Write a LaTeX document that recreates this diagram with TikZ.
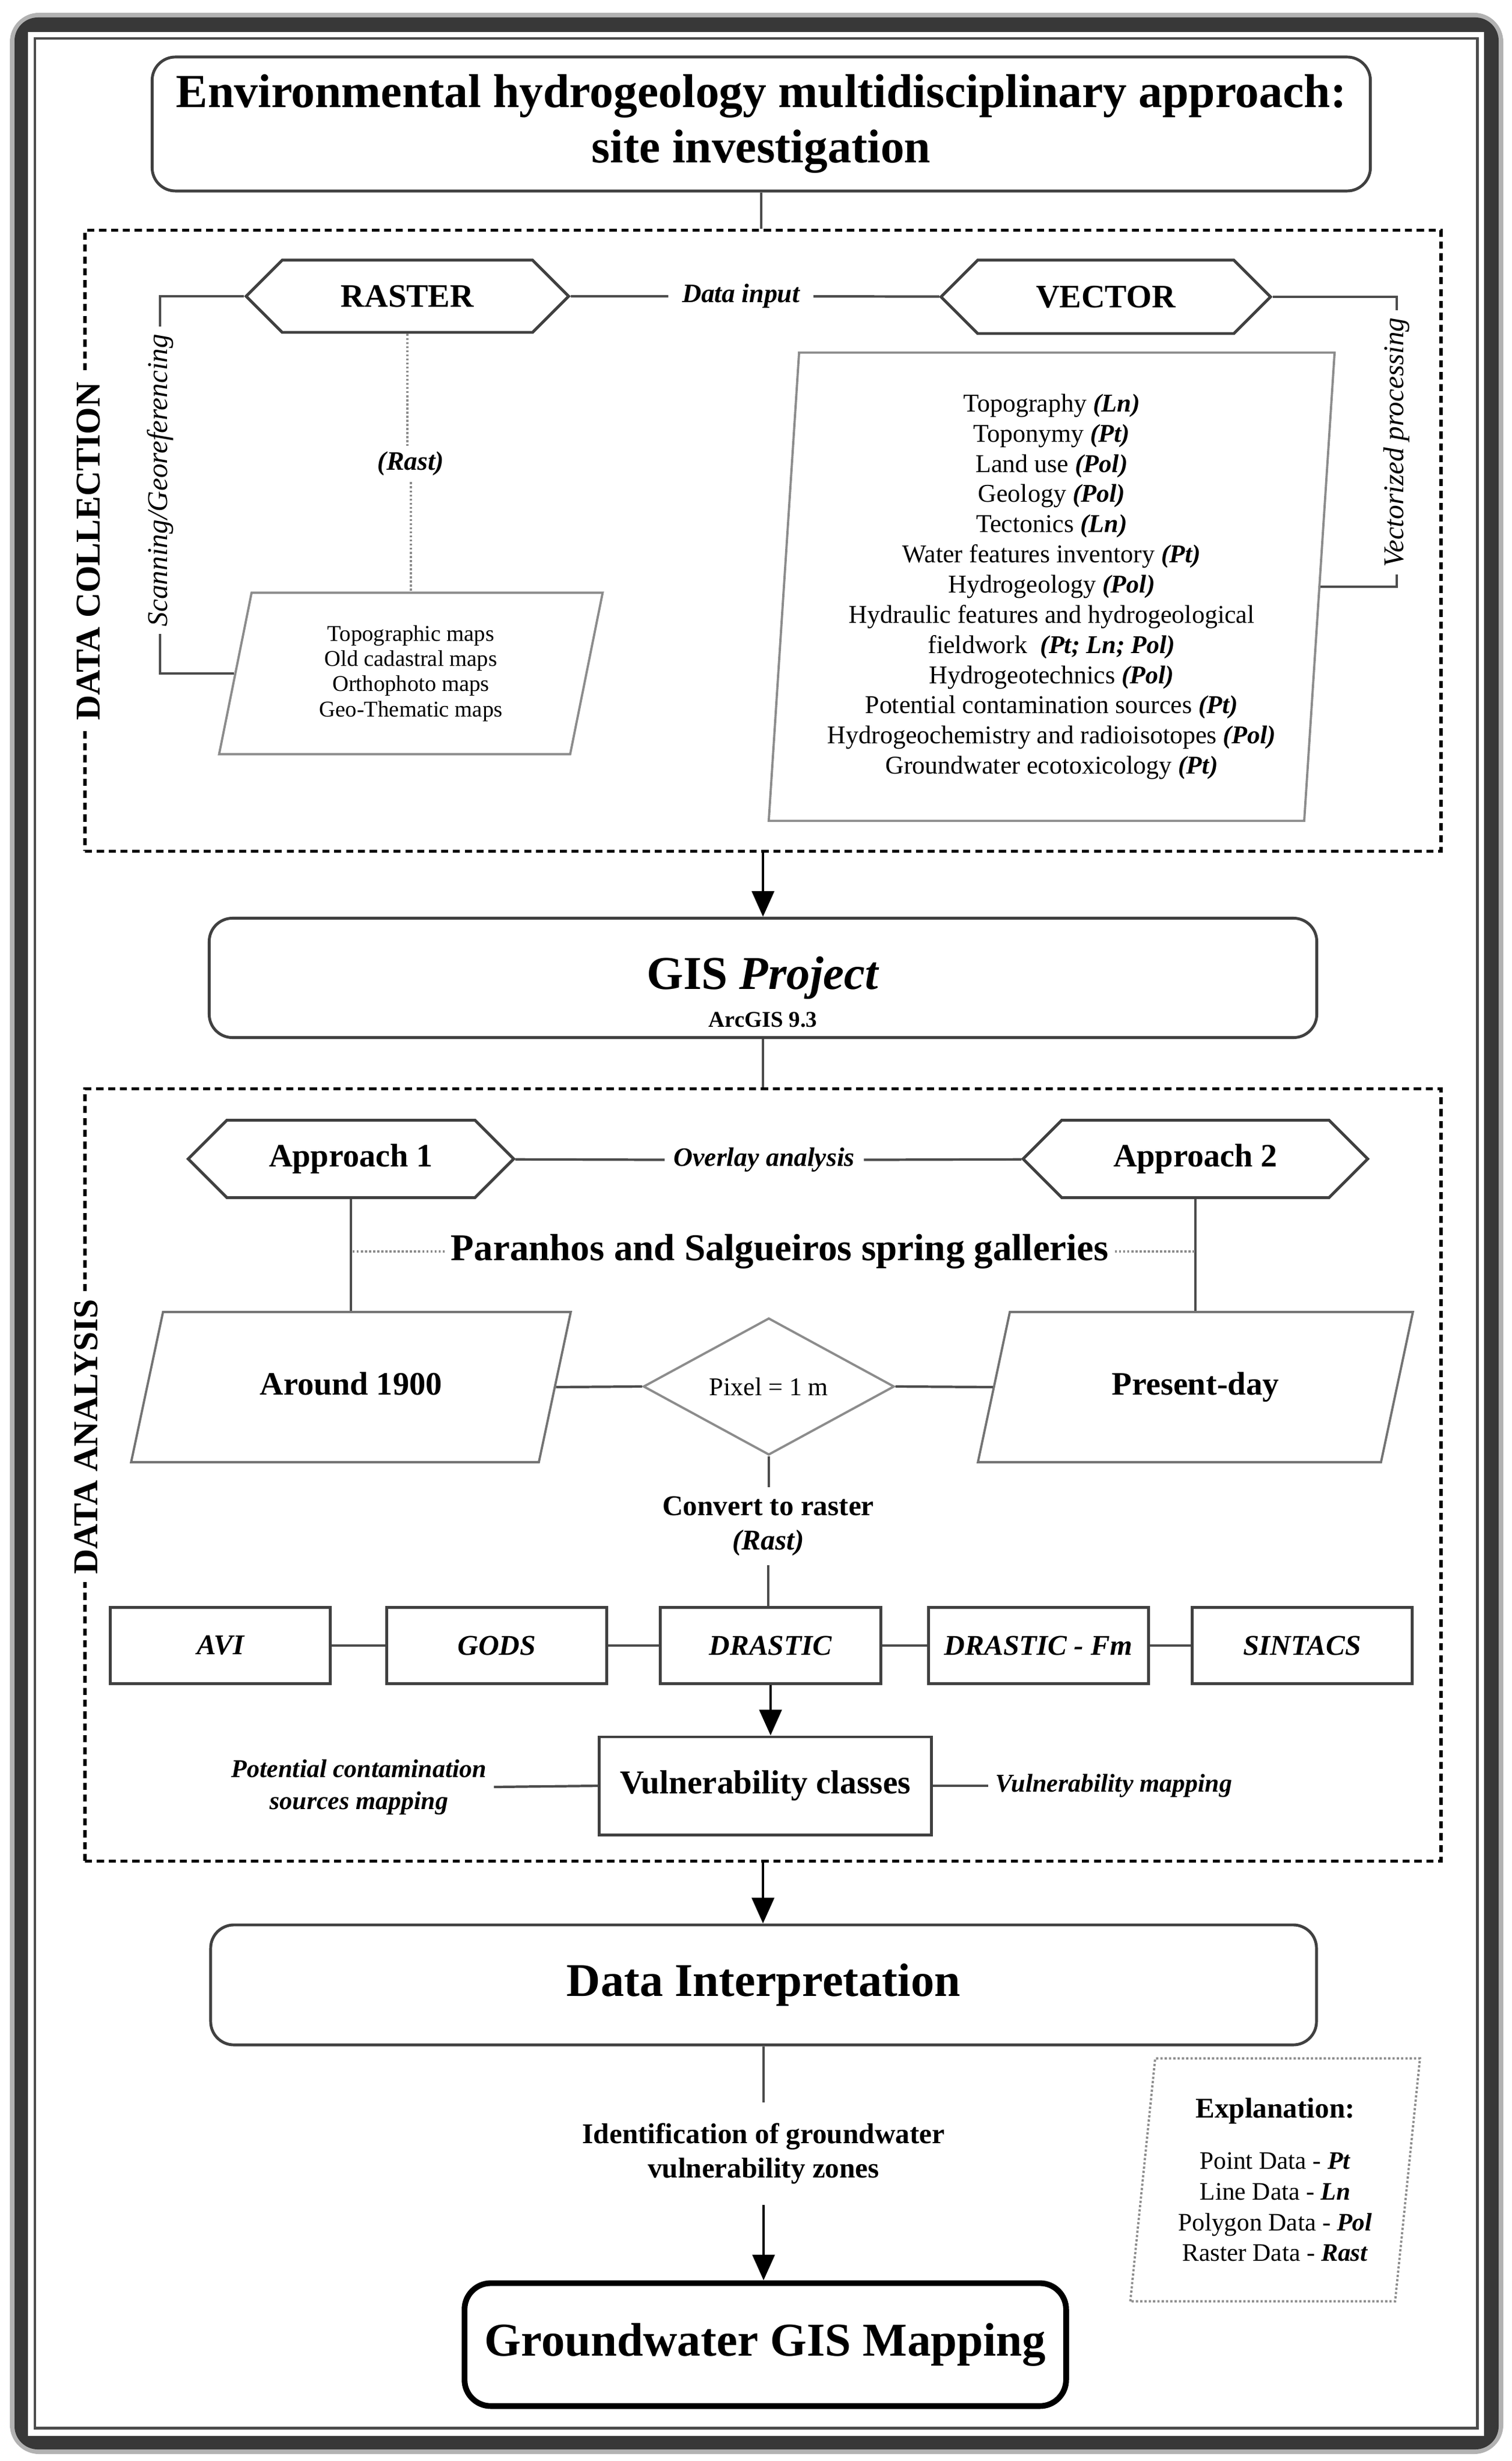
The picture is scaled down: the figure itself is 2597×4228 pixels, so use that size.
\documentclass[tikz,border=0pt]{standalone}
\usepackage{fontspec}
\setmainfont{Liberation Serif}
\usetikzlibrary{arrows.meta,positioning,shapes.geometric,shapes.symbols}

\newcommand{\dtype}[1]{\textbf{\textit{#1}}}

\tikzset{
  roundbox/.style={rectangle, rounded corners=0.4cm, draw=black!75, line width=1.4pt, align=center, inner sep=0pt},
  hexbox/.style={signal, signal to=east and west, signal pointer angle=90, draw=black!75, line width=1.4pt, inner sep=0pt, font=\fontsize{16}{19}\selectfont\bfseries},
  listbox/.style={trapezium, trapezium stretches=true, draw=black!45, line width=1.1pt, align=center, inner sep=0pt},
  periodbox/.style={trapezium, trapezium stretches body=true, trapezium left angle=78, trapezium right angle=102, draw=black!55, line width=1.1pt, inner sep=0pt, text height=1.42cm, text depth=1.16cm, font=\fontsize{16}{19}\selectfont\bfseries},
  method/.style={rectangle, draw=black!75, line width=1.4pt, minimum width=3.78cm, minimum height=1.31cm, font=\fontsize{14}{17}\selectfont\bfseries\itshape},
  phase/.style={rectangle, draw=black, line width=1.6pt, dash pattern=on 3.5pt off 2.3pt, inner sep=0pt},
  phaselabel/.style={rotate=90, fill=white, inner xsep=4pt, inner ysep=1pt, font=\fontsize{17}{20}\selectfont\bfseries},
  sidelabel/.style={rotate=90, inner sep=0.12cm, font=\fontsize{14}{17}\selectfont\itshape},
  note/.style={align=center, font=\fontsize{13}{15.6}\selectfont\bfseries\itshape},
  link/.style={draw=black!70, line width=1.2pt},
  softlink/.style={draw=black!45, line width=1pt, densely dotted},
  flow/.style={draw=black, line width=1.4pt, -{Triangle[length=4.4mm, width=3.8mm]}},
}

\begin{document}
\begin{tikzpicture}[x=0.01cm, y=-0.01cm]
  \useasboundingbox (0,0) rectangle (2597,4228);

  % outer frame
  \fill[black!30, rounded corners=0.5cm] (17,22) rectangle (2583,4216);
  \fill[black!78, rounded corners=0.4cm] (25,30) rectangle (2575,4208);
  \fill[white] (48,55) rectangle (2550,4185);
  \draw[black!70, line width=1.4pt] (60,66) rectangle (2538,4171);

  % site investigation
  \node (site) [roundbox, minimum width=20.92cm, minimum height=2.3cm, font=\fontsize{23.2}{27}\selectfont\bfseries] at (1308,213) {Environmental hydrogeology multidisciplinary approach:\\site investigation};

  % data collection
  \node (collect) [phase, minimum width=23.29cm, minimum height=10.66cm] at (1311,929) {};
  \node (dclabel) [phaselabel] at (152,947) {DATA COLLECTION};
  \draw[link] (site.south) -- (site.south |- collect.north);

  \node (raster) [hexbox, minimum width=5.54cm, minimum height=1.24cm] at (700,509) {RASTER};
  \node (vector) [hexbox, minimum width=5.66cm, minimum height=1.26cm] at (1900,510) {VECTOR};
  \node (input) [note, inner xsep=0.23cm] at (1273,509) {Data input};
  \draw[link] (raster) -- (input);
  \draw[link] (input) -- (vector);

  \node (rastlist) [listbox, trapezium left angle=79, trapezium right angle=101, minimum width=6.59cm, minimum height=2.77cm, font=\fontsize{11}{12.3}\selectfont] at (706,1157) {Topographic maps\\Old cadastral maps\\Orthophoto maps\\Geo-Thematic maps};
  \node (rast) [note, inner sep=0.1cm] at (706,797) {(Rast)};
  \draw[softlink] (raster.south) -- (raster.south |- rast.north);
  \draw[softlink] (rast.south) -- (rast.south |- rastlist.north);

  \node (scan) [sidelabel] at (275,825) {Scanning/Georeferencing};
  \draw[link] (raster.west) -| (scan.east);
  \draw[link] (scan.west) |- (rastlist.west);

  \node (veclist) [listbox, trapezium left angle=86, trapezium right angle=94, minimum width=9.72cm, minimum height=8.04cm, font=\fontsize{12.5}{14.75}\selectfont] at (1807,1008) {Topography \dtype{(Ln)}\\Toponymy \dtype{(Pt)}\\Land use \dtype{(Pol)}\\Geology \dtype{(Pol)}\\Tectonics \dtype{(Ln)}\\Water features inventory \dtype{(Pt)}\\Hydrogeology \dtype{(Pol)}\\Hydraulic features and hydrogeological\\fieldwork\ \ \dtype{(Pt; Ln; Pol)}\\Hydrogeotechnics \dtype{(Pol)}\\Potential contamination sources \dtype{(Pt)}\\Hydrogeochemistry and radioisotopes \dtype{(Pol)}\\Groundwater ecotoxicology \dtype{(Pt)}};

  \node (vecproc) [sidelabel] at (2400,760) {Vectorized processing};
  \draw[link] (vector.east) -| (vecproc.east);
  \draw[link] (vecproc.west) |- (veclist.east);

  % GIS project
  \node (gis) [roundbox, minimum width=19.02cm, minimum height=2.05cm, font=\fontsize{23}{27}\selectfont\bfseries] at (1311,1680) {GIS \textit{Project}};
  \node (arcgis) [font=\fontsize{11}{13}\selectfont\bfseries] at (1311,1752) {ArcGIS 9.3};
  \draw[flow] (collect.south) -- (collect.south |- gis.north);

  % data analysis
  \node (analysis) [phase, minimum width=23.29cm, minimum height=13.26cm] at (1311,2534) {};
  \node (dalabel) [phaselabel] at (148,2468) {DATA ANALYSIS};
  \draw[link] (gis.south) -- (gis.south |- analysis.north);

  \node (app1) [hexbox, minimum width=5.59cm, minimum height=1.33cm] at (603,1991) {Approach 1};
  \node (app2) [hexbox, minimum width=5.92cm, minimum height=1.33cm] at (2054,1991) {Approach 2};
  \node (overlay) [note, inner xsep=0.15cm] at (1313,1993) {Overlay analysis};
  \draw[link] (app1) -- (overlay);
  \draw[link] (overlay) -- (app2);

  \node (around) [periodbox, minimum width=7.55cm] at (603,2383) {Around 1900};
  \node (present) [periodbox, minimum width=7.47cm] at (2054,2383) {Present-day};
  \draw[link] (app1.south) -- (app1.south |- around.north);
  \draw[link] (app2.south) -- (app2.south |- present.north);

  \node (springs) [inner xsep=0.1cm, font=\fontsize{18.5}{22}\selectfont\bfseries] at (1340,2150) {Paranhos and Salgueiros spring galleries};
  \draw[softlink] (springs.west) -- (springs.west -| app1.south);
  \draw[softlink] (springs.east) -- (springs.east -| app2.south);

  \node (pixel) [diamond, draw=black!45, line width=1.1pt, minimum width=4.31cm, minimum height=1.99cm, inner sep=0pt, font=\fontsize{12.5}{15}\selectfont] at (1321,2382) {Pixel = 1 m};
  \draw[link] (around.east) -- (pixel.west);
  \draw[link] (pixel.east) -- (present.west);

  \node (convert) [align=center, inner ysep=0.15cm, font=\fontsize{14}{16.7}\selectfont\bfseries] at (1320,2622) {Convert to raster\\\textit{(Rast)}};
  \draw[link] (pixel.south) -- (pixel.south |- convert.north);

  \node (drastic) [method] at (1324,2827) {DRASTIC};
  \node (gods) [method, left=0.87cm of drastic] {GODS};
  \node (avi) [method, left=0.92cm of gods] {AVI};
  \node (fm) [method, right=0.77cm of drastic] {DRASTIC - Fm};
  \node (sintacs) [method, right=0.70cm of fm] {SINTACS};
  \draw[link] (convert.south) -- (convert.south |- drastic.north);
  \draw[link] (avi) -- (gods);
  \draw[link] (gods) -- (drastic);
  \draw[link] (drastic) -- (fm);
  \draw[link] (fm) -- (sintacs);

  \node (vuln) [rectangle, draw=black!75, line width=1.4pt, minimum width=5.7cm, minimum height=1.68cm, font=\fontsize{16.3}{19}\selectfont\bfseries] at (1315,3068) {Vulnerability classes};
  \draw[flow] (drastic.south) -- (drastic.south |- vuln.north);
  \node (sources) [note, font=\fontsize{12.5}{15.6}\selectfont\bfseries\itshape] at (617,3070) {Potential contamination\\sources mapping};
  \node (vulnmap) [note, font=\fontsize{12.5}{15.6}\selectfont\bfseries\itshape] at (1914,3068) {Vulnerability mapping};
  \draw[link] (sources.east) -- (vuln.west);
  \draw[link] (vuln.east) -- (vulnmap.west);

  % interpretation and mapping
  \node (interp) [roundbox, minimum width=18.99cm, minimum height=2.06cm, font=\fontsize{22.9}{27}\selectfont\bfseries] at (1312,3410) {Data Interpretation};
  \draw[flow] (analysis.south) -- (analysis.south |- interp.north);

  \node (zones) [align=center, inner ysep=0.35cm, font=\fontsize{14}{16.7}\selectfont\bfseries] at (1312,3700) {Identification of groundwater\\vulnerability zones};
  \node (mapping) [rectangle, rounded corners=0.45cm, draw=black, line width=2.8pt, minimum width=10.33cm, minimum height=2.11cm, font=\fontsize{23}{27}\selectfont\bfseries] at (1315,4028) {Groundwater GIS Mapping};
  \draw[link] (interp.south) -- (interp.south |- zones.north);
  \draw[flow] (zones.south) -- (zones.south |- mapping.north);

  % legend
  \node (legend) [listbox, trapezium left angle=83, trapezium right angle=97, densely dotted, minimum width=4.98cm, minimum height=4.17cm, font=\fontsize{12.3}{15}\selectfont] at (2191,3745) {{\fontsize{14}{17}\selectfont\bfseries Explanation:}\\[10pt]Point Data - \dtype{Pt}\\Line Data - \dtype{Ln}\\Polygon Data - \dtype{Pol}\\Raster Data - \dtype{Rast}};
\end{tikzpicture}
\end{document}
